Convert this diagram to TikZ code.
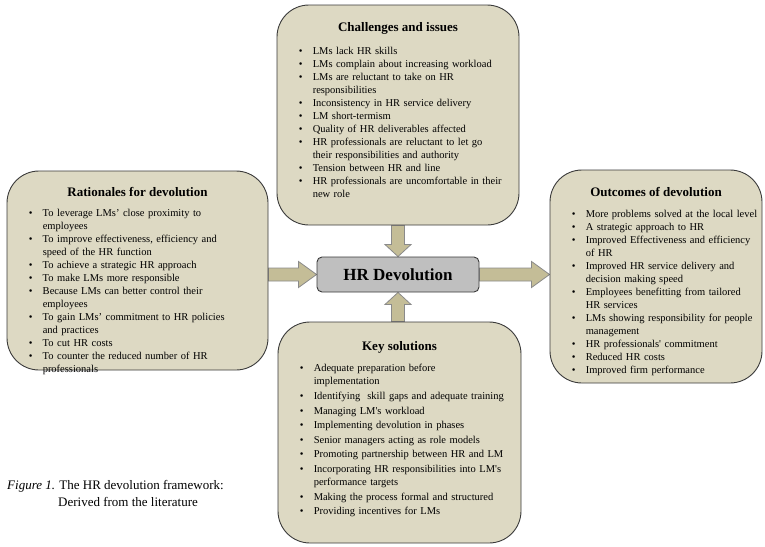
\documentclass[tikz,border=0pt]{standalone}
\usepackage{fontspec}
\setmainfont{Liberation Serif}
\usepackage{xcolor}
\usetikzlibrary{calc,positioning,backgrounds}

\definecolor{boxfill}{HTML}{DDD9C3}
\definecolor{boxline}{HTML}{3A3A3A}
\definecolor{arrowfill}{HTML}{C4BD97}
\definecolor{arrowline}{HTML}{8A8A8A}
\definecolor{corefill}{HTML}{BFBFBF}

% one bullet point of a list
\newcommand{\hritem}[1]{\par\noindent\hangindent=14pt\hangafter=1%
  \makebox[14pt][l]{\textbullet}\strut#1}

% block arrow: #1 start, #2 tip, #3 head length
\newcommand{\blockarrow}[3]{%
  \coordinate (tip-base) at ($(#2)!#3!(#1)$);
  \draw[blockarrow]
    ($(#1)!6.5pt!90:(#2)$) -- ($(tip-base)!6.5pt!90:(#2)$)
    -- ($(tip-base)!13pt!90:(#2)$) -- (#2)
    -- ($(tip-base)!13pt!-90:(#2)$) -- ($(tip-base)!6.5pt!-90:(#2)$)
    -- ($(#1)!6.5pt!-90:(#2)$) -- cycle;
}

\begin{document}
\begin{tikzpicture}[
    x=1pt,
    y=-1pt,
    tanbox/.style={draw=boxline,fill=boxfill,line width=0.9pt,
        rounded corners=32pt,inner sep=0pt},
    core/.style={draw=boxline,fill=corefill,line width=0.9pt,
        rounded corners=5pt,inner sep=0pt,minimum width=162pt,
        minimum height=35pt,font=\fontsize{17}{20}\selectfont\bfseries},
    boxtitle/.style={anchor=base,inner sep=0pt,
        font=\fontsize{13}{15}\selectfont\bfseries},
    boxlist/.style={anchor=north west,inner sep=0pt,text width=300pt,
        align=left,font=\fontsize{10.5}{13}\selectfont},
    blockarrow/.style={draw=arrowline,fill=arrowfill,line width=0.8pt},
    captext/.style={anchor=base west,inner sep=0pt,
        font=\fontsize{13}{17}\selectfont}
]

\useasboundingbox (0,0) rectangle (765,546);

% ---------------------------------------------------------
% Boxes
% ---------------------------------------------------------

\node[tanbox,minimum width=242pt,minimum height=220pt]
    (challenges) at (398,115) {};

\node[tanbox,minimum width=261pt,minimum height=199pt]
    (rationales) at (137.5,270.5) {};

\node[tanbox,minimum width=212pt,minimum height=213pt]
    (outcomes) at (656,276.5) {};

\node[tanbox,minimum width=243pt,minimum height=221pt]
    (solutions) at (399.5,432.5) {};

\node[core] (hrdev) at (398,274.5) {HR Devolution};

% ---------------------------------------------------------
% Arrows
% ---------------------------------------------------------

\coordinate (left-start) at (rationales.east |- hrdev.west);
\coordinate (right-tip) at (outcomes.west |- hrdev.east);
\coordinate (bottom-start) at (hrdev.south |- solutions.north);

\begin{scope}[on background layer]
    \blockarrow{left-start}{hrdev.west}{18pt}
    \blockarrow{hrdev.east}{right-tip}{18pt}
    \blockarrow{challenges.south}{hrdev.north}{12pt}
    \blockarrow{bottom-start}{hrdev.south}{12pt}
\end{scope}

% ---------------------------------------------------------
% Challenges and issues
% ---------------------------------------------------------

\node[boxtitle] (challenges-title)
    at ([yshift=-27pt]challenges.north) {Challenges and issues};

\node[boxlist] (challenges-list)
    at ([xshift=22pt,yshift=-36.4pt]challenges.north west) {%
    \hritem{LMs lack HR skills}
    \hritem{LMs complain about increasing workload}
    \hritem{LMs are reluctant to take on HR\newline responsibilities}
    \hritem{Inconsistency in HR service delivery}
    \hritem{LM short-termism}
    \hritem{Quality of HR deliverables affected}
    \hritem{HR professionals are reluctant to let go\newline
        their responsibilities and authority}
    \hritem{Tension between HR and line}
    \hritem{HR professionals are uncomfortable in their\newline new role}\par};

% ---------------------------------------------------------
% Rationales for devolution
% ---------------------------------------------------------

\node[boxtitle] (rationales-title)
    at ([yshift=-25.5pt]rationales.north) {Rationales for devolution};

\node[boxlist] (rationales-list)
    at ([xshift=22pt,yshift=-33pt]rationales.north west) {%
    \hritem{To leverage LMs’ close proximity to\newline employees}
    \hritem{To improve effectiveness, efficiency and\newline
        speed of the HR function}
    \hritem{To achieve a strategic HR approach}
    \hritem{To make LMs more responsible}
    \hritem{Because LMs can better control their\newline employees}
    \hritem{To gain LMs’ commitment to HR policies\newline and practices}
    \hritem{To cut HR costs}
    \hritem{To counter the reduced number of HR\newline professionals}\par};

% ---------------------------------------------------------
% Outcomes of devolution
% ---------------------------------------------------------

\node[boxtitle] (outcomes-title)
    at ([yshift=-26.5pt]outcomes.north) {Outcomes of devolution};

\node[boxlist] (outcomes-list)
    at ([xshift=22pt,yshift=-34.6pt]outcomes.north west) {%
    \hritem{More problems solved at the local level}
    \hritem{A strategic approach to HR}
    \hritem{Improved Effectiveness and efficiency\newline of HR}
    \hritem{Improved HR service delivery and\newline
        decision making speed}
    \hritem{Employees benefitting from tailored\newline HR services}
    \hritem{LMs showing responsibility for people\newline management}
    \hritem{HR professionals\textquotesingle\ commitment}
    \hritem{Reduced HR costs}
    \hritem{Improved firm performance}\par};

% ---------------------------------------------------------
% Key solutions
% ---------------------------------------------------------

\node[boxtitle] (solutions-title)
    at ([yshift=-28.5pt]solutions.north) {Key solutions};

\node[boxlist] (solutions-list)
    at ([xshift=22pt,yshift=-35.6pt]solutions.north west) {%
    \setlength{\parskip}{1.6pt}%
    \hritem{Adequate preparation before\newline implementation}
    \hritem{Identifying\ \ skill gaps and adequate training}
    \hritem{Managing LM\textquotesingle s workload}
    \hritem{Implementing devolution in phases}
    \hritem{Senior managers acting as role models}
    \hritem{Promoting partnership between HR and LM}
    \hritem{Incorporating HR responsibilities into LM\textquotesingle s\newline
        performance targets}
    \hritem{Making the process formal and structured}
    \hritem{Providing incentives for LMs}\par};

% ---------------------------------------------------------
% Caption
% ---------------------------------------------------------

\node[captext] (fig-caption) at (7,489)
    {\textit{Figure 1.} The HR devolution framework:};

\node[captext] (fig-source) at (58,506)
    {Derived from the literature};

\end{tikzpicture}
\end{document}
